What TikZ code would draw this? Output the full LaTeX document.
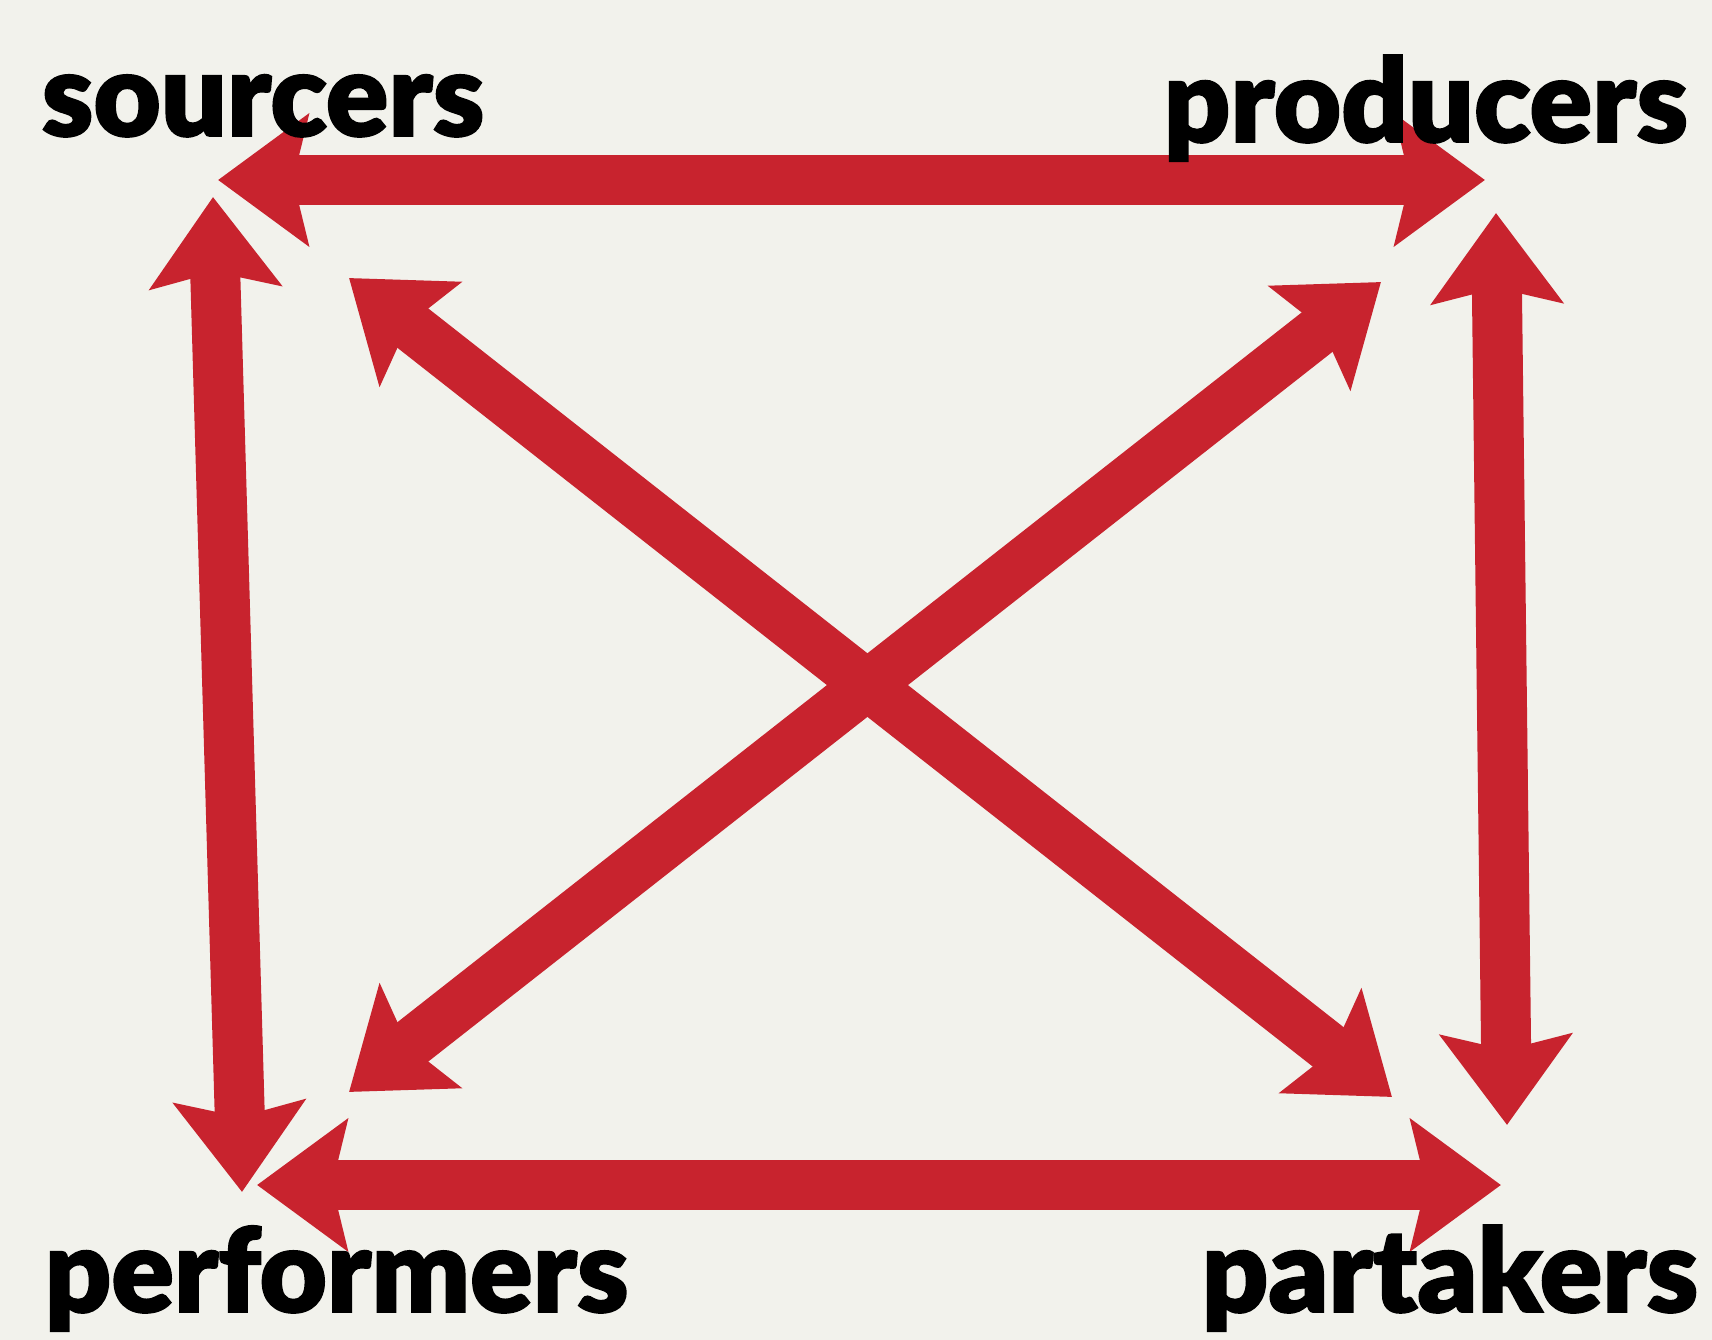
\documentclass[tikz,border=0pt]{standalone}
\usepackage{fontspec}
\newfontfamily\labelfont{Lato Black}[FakeBold=1.6]
\usetikzlibrary{arrows.meta}
\definecolor{arrowred}{HTML}{C8232E}
\definecolor{paper}{HTML}{F2F2EC}
\begin{document}
\begin{tikzpicture}[x=0.01cm,y=-0.01cm,
  lbl/.style={anchor=base west,inner sep=0pt,font=\labelfont\fontsize{33}{33}\selectfont},
  tip/.tip={Stealth[length=9mm,width=13mm,inset=1.5mm]},
  arr/.style={tip-tip,line width=5mm,draw=arrowred}]
\fill[paper] (0,0) rectangle (1712,1340);
\useasboundingbox (0,0) rectangle (1712,1340);
% arrow ends at the four corners
\coordinate (srcH) at (218,180); \coordinate (srcV) at (213,197); \coordinate (srcD) at (349,278);
\coordinate (proH) at (1485,180); \coordinate (proV) at (1496,213); \coordinate (proD) at (1381,282);
\coordinate (perH) at (257,1185); \coordinate (perV) at (242,1192); \coordinate (perD) at (349,1092);
\coordinate (parH) at (1501,1185); \coordinate (parV) at (1507,1125); \coordinate (parD) at (1392,1097);
\draw[arr](srcH)--(proH);\draw[arr](perH)--(parH);\draw[arr](srcV)--(perV);\draw[arr](proV)--(parV);
\draw[arr](srcD)--(parD);\draw[arr](perD)--(proD);
\node[lbl] (sourcers) at (41,136) {sourcers};
\node[lbl] (producers) at (1163,142) {producers};
\node[lbl] (performers) at (44,1312) {performers};
\node[lbl] (partakers) at (1201,1312) {partakers};
\end{tikzpicture}
\end{document}
